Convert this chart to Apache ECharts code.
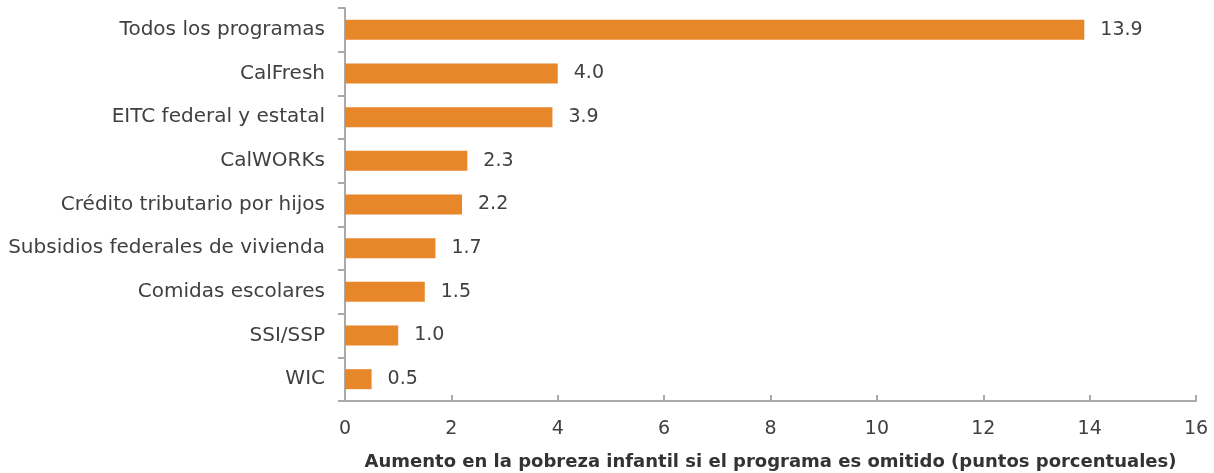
<!DOCTYPE html>
<html>
<head>
<meta charset="utf-8">
<script src="https://cdn.jsdelivr.net/npm/echarts@6/dist/echarts.min.js"></script>
<style>
  html, body { margin: 0; padding: 0; background: #fff; }
  #chart { width: 1214px; height: 473px; }
</style>
</head>
<body>
<div id="chart"></div>
<script>
const categories = [
  'Todos los programas',
  'CalFresh',
  'EITC federal y estatal',
  'CalWORKs',
  'Crédito tributario por hijos',
  'Subsidios federales de vivienda',
  'Comidas escolares',
  'SSI/SSP',
  'WIC'
];
const values = [13.9, 4.0, 3.9, 2.3, 2.2, 1.7, 1.5, 1.0, 0.5];
const xTicks = [0, 2, 4, 6, 8, 10, 12, 14, 16];
const axisTitle = 'Aumento en la pobreza infantil si el programa es omitido (puntos porcentuales)';

const font = '"DejaVu Sans", sans-serif';
const textColor = '#404040';
const chart = echarts.init(document.getElementById('chart'));
chart.setOption({
  animation: false,
  grid: { left: 345, right: 18, top: 8, bottom: 72, outerBoundsMode: 'none', containLabel: false },
  xAxis: {
    type: 'value',
    min: xTicks[0],
    max: xTicks[xTicks.length - 1],
    interval: 2,
    name: axisTitle,
    nameLocation: 'middle',
    nameGap: 52,
    nameTextStyle: { fontFamily: font, fontSize: 18, fontWeight: 'bold', color: '#333' },
    splitLine: { show: false },
    axisLine: { show: true, lineStyle: { color: '#aaa', width: 2 } },
    axisTick: { show: true, inside: true, length: 6, lineStyle: { color: '#aaa', width: 2 } },
    axisLabel: { fontFamily: font, fontSize: 19, color: textColor, margin: 19 }
  },
  yAxis: {
    type: 'category',
    data: categories,
    inverse: true,
    axisLine: { lineStyle: { color: '#aaa', width: 2 } },
    axisTick: { show: true, length: 7, lineStyle: { color: '#aaa', width: 2 } },
    axisLabel: { fontFamily: font, fontSize: 20, color: textColor, margin: 20 }
  },
  series: [{
    type: 'bar',
    data: values,
    barWidth: 20,
    itemStyle: { color: '#E8862A' },
    label: {
      show: true,
      position: 'right',
      distance: 16,
      fontFamily: font,
      fontSize: 19,
      color: textColor,
      formatter: p => p.value.toFixed(1)
    }
  }]
});
</script>
</body>
</html>
